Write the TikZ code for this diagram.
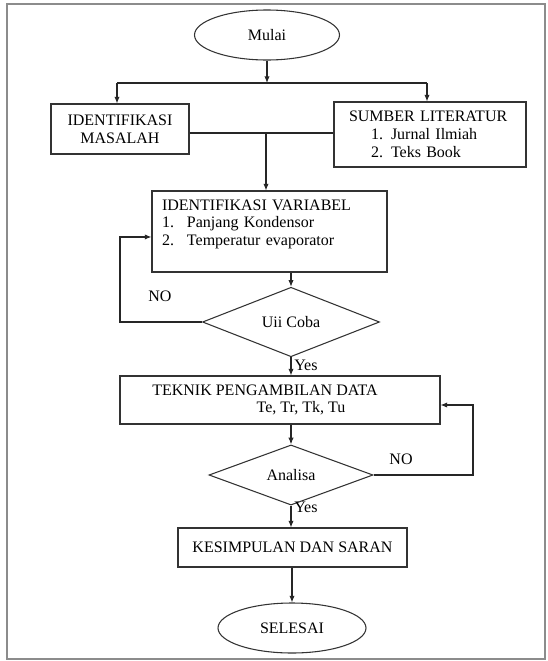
\documentclass[tikz,border=0pt]{standalone}
\usepackage{fontspec}
\setmainfont{Liberation Serif}
\newfontfamily\hurufserif{Liberation Serif}
\usetikzlibrary{shapes.geometric,arrows.meta}
\tikzset{kotak/.style={draw=black!80,line width=0.8pt,rectangle,inner sep=0pt,align=center,font=\hurufserif\fontsize{12}{13.3}\selectfont}}
\tikzset{oval/.style={draw=black!80,line width=0.8pt,ellipse,inner sep=0pt,font=\hurufserif\fontsize{12}{13.3}\selectfont}}
\tikzset{keputusan/.style={draw=black!80,line width=0.8pt,diamond,inner sep=0pt,font=\hurufserif\fontsize{12}{13.3}\selectfont}}
\tikzset{panah/.style={draw=black!85,line width=0.8pt,-{Latex[length=5pt,width=4pt]}}}
\tikzset{garis/.style={draw=black!85,line width=0.8pt}}
\tikzset{teks/.style={inner sep=0pt,font=\hurufserif\fontsize{12}{13.3}\selectfont}}

\begin{document}
\begin{tikzpicture}[x=0.75pt,y=-0.75pt]
        \useasboundingbox (0,0) rectangle (548,661);
        \draw[black!45,line width=1.2pt] (7,4) rectangle (545,659);
        \node[oval,minimum width=108.75pt,minimum height=37.5pt] (mulai) at (267,35) {Mulai};
        \node[kotak,minimum width=103.5pt,minimum height=37.5pt] (masalah) at (120,129) {IDENTIFIKASI\\MASALAH};
        \node[kotak,align=left,text width=121.5pt,inner xsep=11.25pt,minimum height=48.75pt] (sumber) at (430,134.5)
            {SUMBER LITERATUR\\\hspace*{16.5pt}\makebox[15pt][l]{1.}Jurnal Ilmiah\\\hspace*{16.5pt}\makebox[15pt][l]{2.}Teks Book};
        \node[kotak,align=left,text width=161.25pt,inner xsep=7.5pt,minimum height=60.75pt] (variabel) at (269.5,231.5)
            {IDENTIFIKASI VARIABEL\\\makebox[18.75pt][l]{1.}Panjang Kondensor\\\makebox[18.75pt][l]{2.}Temperatur evaporator\\\mbox{}};
        \node[keputusan,minimum width=132.75pt,minimum height=36pt] (uji) at (291,322) {Uii Coba};
        \node[kotak,minimum width=240pt,minimum height=36pt] (teknik) at (280,400)
            {\hspace*{-22.5pt}TEKNIK PENGAMBILAN DATA\\\hspace*{31.5pt}Te, Tr, Tk, Tu};
        \node[keputusan,minimum width=123pt,minimum height=37.5pt] (analisa) at (291,475) {Analisa};
        \node[kotak,minimum width=171.75pt,minimum height=29.25pt] (kesimpulan) at (292.5,547.5) {KESIMPULAN DAN SARAN};
        \node[oval,minimum width=111pt,minimum height=37.5pt] (selesai) at (292,628) {SELESAI};

        \coordinate (cabang) at (267,83);
        \coordinate (cabangL) at (117,83);
        \coordinate (cabangR) at (427,83);
        \coordinate (gabung) at (266,133);
        \coordinate (balikL) at (120,322);
        \coordinate (balikR) at (473,475);

        \draw[panah] (mulai) -- (cabang);
        \draw[garis] (cabangL) -- (cabangR);
        \draw[panah] (cabangL) -- (cabangL |- masalah.north);
        \draw[panah] (cabangR) -- (cabangR |- sumber.north);
        \draw[garis] (masalah.east |- gabung) -- (sumber.west |- gabung);
        \draw[panah] (gabung) -- (gabung |- variabel.north);
        \draw[panah] (uji.north |- variabel.south) -- (uji.north);
        \draw[panah] (uji.west) -- (balikL) |- ([yshift=-4.1pt]variabel.west);
        \draw[panah] (uji.south) -- (uji.south |- teknik.north);
        \draw[panah] (analisa.north |- teknik.south) -- (analisa.north);
        \draw[panah] (analisa.east) -- (balikR) |- ([yshift=-3.75pt]teknik.east);
        \draw[panah] (analisa.south) -- (analisa.south |- kesimpulan.north);
        \draw[panah] (selesai.north |- kesimpulan.south) -- (selesai.north);

        \node[teks] (no1) at (160,296) {NO};
        \node[teks] (no2) at (401,459) {NO};
        \node[teks,anchor=west] (yes1) at (294,365) {Yes};
        \node[teks,anchor=west] (yes2) at (294,507) {Yes};
    \end{tikzpicture}
\end{document}
